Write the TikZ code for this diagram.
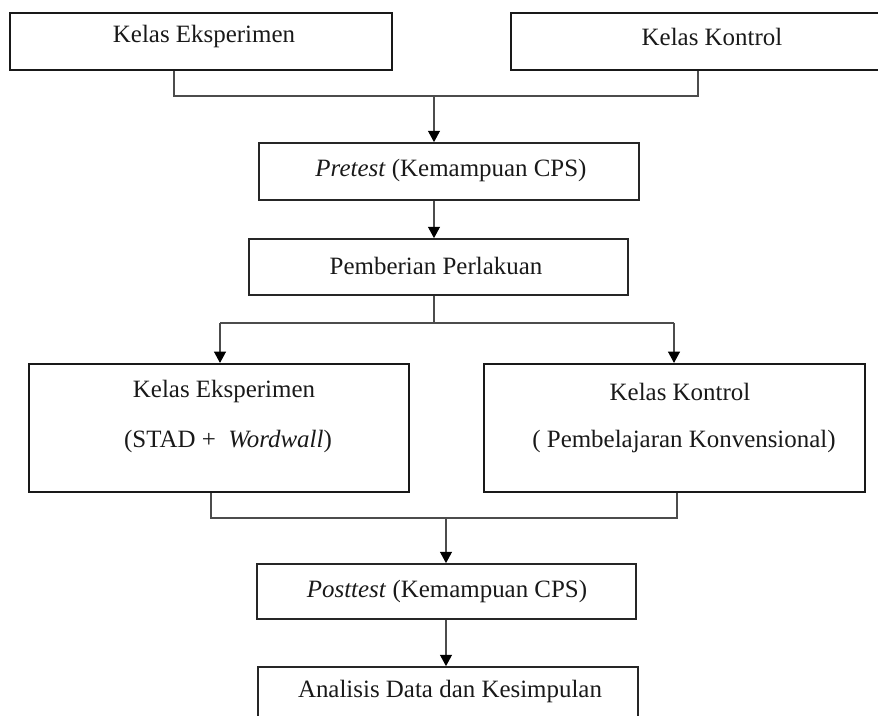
\documentclass[tikz,border=0pt]{standalone}
\usepackage{fontspec}
\setmainfont{Liberation Serif}
\usetikzlibrary{fit,arrows.meta}
\begin{document}
\begin{tikzpicture}[x=0.75pt,y=-0.75pt,
  thickbox/.style={draw=black!90,line width=2pt,inner sep=0pt,fill=none},
  box/.style={draw=black!85,line width=1.3pt,inner sep=0pt},
  conn/.style={draw=black!70,line width=0.8pt},
  arr/.style={conn,-{Triangle[width=9pt,length=8.5pt,color=black,fill=black]}},
  txt/.style={font=\fontsize{18.7}{22}\selectfont,inner sep=0pt,text=black!90}]
\useasboundingbox (0,0) rectangle (878,716);
% boxes
\node[thickbox,fit={(10,13)(392,70)}] (b1) {};
\node[thickbox,fit={(511,13)(913,70)}] (b2) {};
\node[box,fit={(259,143)(639,200)}] (pre) {};
\node[box,fit={(249,239)(628,295)}] (pem) {};
\node[thickbox,line width=1.6pt,fit={(29,364)(409,492)}] (e2) {};
\node[thickbox,line width=1.6pt,fit={(484,364)(865,492)}] (k2) {};
\node[box,fit={(257,564)(636,619)}] (post) {};
\node[box,fit={(258,667)(638,722)}] (ana) {};
% texts
\node[txt] (t1) at (204,37) {Kelas Eksperimen};
\node[txt] (t2) at (712,37) {Kelas Kontrol};
\node[txt] (t3) at (451,171) {\textit{Pretest} (Kemampuan CPS)};
\node[txt] (t4) at (436,266) {Pemberian Perlakuan};
\node[txt] (t5) at (224,392) {Kelas Eksperimen};
\node[txt] (t6) at (228,442) {(STAD + \ \textit{Wordwall})};
\node[txt] (t7) at (680,392) {Kelas Kontrol};
\node[txt] (t8) at (684,442) {( Pembelajaran Konvensional)};
\node[txt] (t9) at (447,592) {\textit{Posttest} (Kemampuan CPS)};
\node[txt] (t10) at (450,692) {Analisis Data dan Kesimpulan};
% junction coordinates
\coordinate (c1) at (174,96);
\coordinate (c2) at (698,96);
\coordinate (cj) at (434,96);
\coordinate (s0) at (434,323);
\coordinate (s1) at (220,323);
\coordinate (s2) at (674,323);
\coordinate (m1) at (211,518);
\coordinate (m2) at (677,518);
\coordinate (mj) at (446,518);
% connectors
\draw[conn] (b1.south -| c1) -- (c1) -- (c2) -- (b2.south -| c2);
\draw[arr] (cj) -- (pre.north -| cj);
\draw[arr] (pre.south -| cj) -- (pem.north -| cj);
\draw[conn] (pem.south -| s0) -- (s0);
\draw[conn] (s1) -- (s2);
\draw[arr] (s1) -- (e2.north -| s1);
\draw[arr] (s2) -- (k2.north -| s2);
\draw[conn] (e2.south -| m1) -- (m1) -- (m2) -- (k2.south -| m2);
\draw[arr] (mj) -- (post.north -| mj);
\draw[arr] (post.south -| mj) -- (ana.north -| mj);
\end{tikzpicture}
\end{document}
